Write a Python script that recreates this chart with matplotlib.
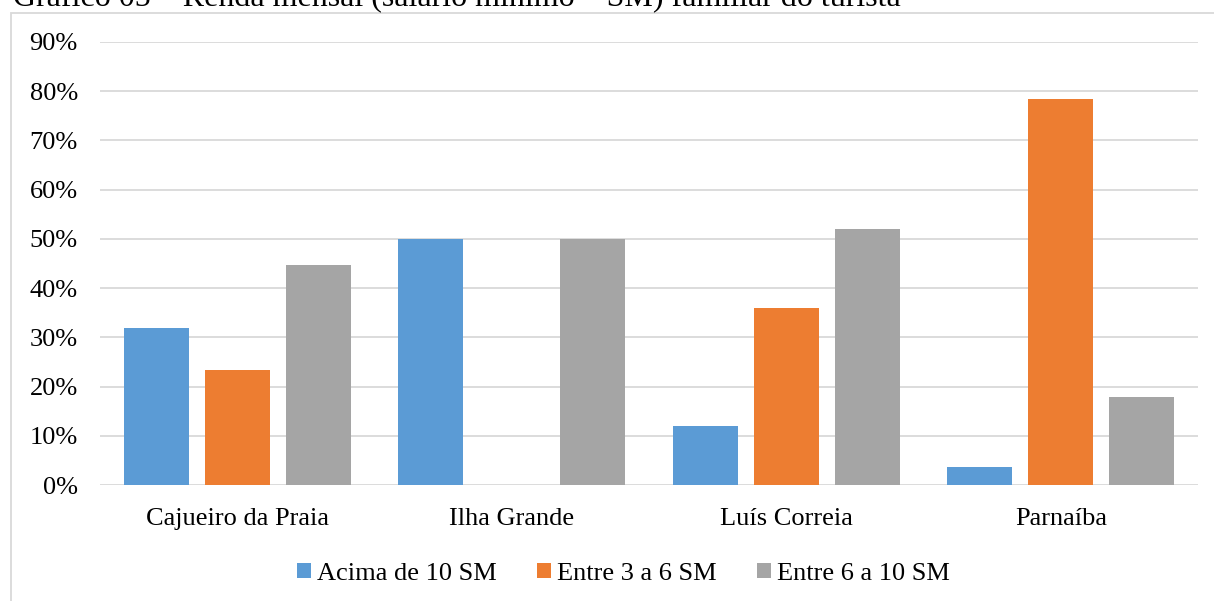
import matplotlib
matplotlib.use("Agg")
import matplotlib.pyplot as plt
from matplotlib.patches import Rectangle
import numpy as np

# Monthly family income of tourists, share per municipality
categories = ["Cajueiro da Praia", "Ilha Grande", "Luís Correia", "Parnaíba"]
series_names = ["Acima de 10 SM", "Entre 3 a 6 SM", "Entre 6 a 10 SM"]
acima_10 = [0.319, 0.50, 0.12, 0.036]
entre_3_6 = [0.234, 0.0, 0.36, 0.785]
entre_6_10 = [0.447, 0.50, 0.52, 0.179]
yticks = [0.0, 0.1, 0.2, 0.3, 0.4, 0.5, 0.6, 0.7, 0.8, 0.9]
title = "Gráfico 05 – Renda mensal (salário mínimo – SM) familiar do turista"

colors = ["#5B9BD5", "#ED7D31", "#A5A5A5"]
grid_color = "#D9D9D9"
W, H = 1214, 601

plt.rcParams["font.family"] = ["Liberation Serif", "DejaVu Serif"]
fig = plt.figure(figsize=(W / 100, H / 100), dpi=100)

# chart frame (extends past the right and bottom edges)
fig.patches.append(Rectangle((11 / W, -0.2), 2.0, 1.2 - 12.5 / H,
                             transform=fig.transFigure, fill=False,
                             edgecolor=grid_color, linewidth=1.3, clip_on=False))

fig.text(13 / W, 1 - 6.5 / H, title, fontsize=23, ha="left", va="baseline",
         color="black")

ax = fig.add_axes([100 / W, 1 - 485 / H, 1098 / W, 443 / H])
x = np.arange(len(categories))
bw = 0.237
step = 0.295
for i, (vals, c) in enumerate(zip([acima_10, entre_3_6, entre_6_10], colors)):
    ax.bar(x + (i - 1) * step, vals, width=bw, color=c, zorder=3,
           label=series_names[i])

ax.set_xlim(-0.5, len(categories) - 0.5)
ax.set_ylim(0, 0.9)
ax.set_yticks(yticks)
ax.set_yticklabels([f"{int(round(t * 100))}%" for t in yticks])
ax.set_xticks(x)
ax.set_xticklabels(categories)
ax.tick_params(axis="both", length=0, labelsize=19, colors="black")
ax.tick_params(axis="y", pad=16)
ax.tick_params(axis="x", pad=16.5)
ax.grid(axis="y", color=grid_color, linewidth=1.3, zorder=0)
ax.set_axisbelow(True)
for s in ax.spines.values():
    s.set_visible(False)

handles = [Rectangle((0, 0), 1, 1, facecolor=c, edgecolor="none") for c in colors]
fig.legend(handles, series_names, loc="center", bbox_to_anchor=(623.5 / W, 1 - 574 / H),
           ncol=3, frameon=False, fontsize=19, handlelength=0.53, handleheight=0.53,
           handletextpad=0.23, columnspacing=1.54, borderpad=0, borderaxespad=0)

fig.savefig("out.png", dpi=100)
